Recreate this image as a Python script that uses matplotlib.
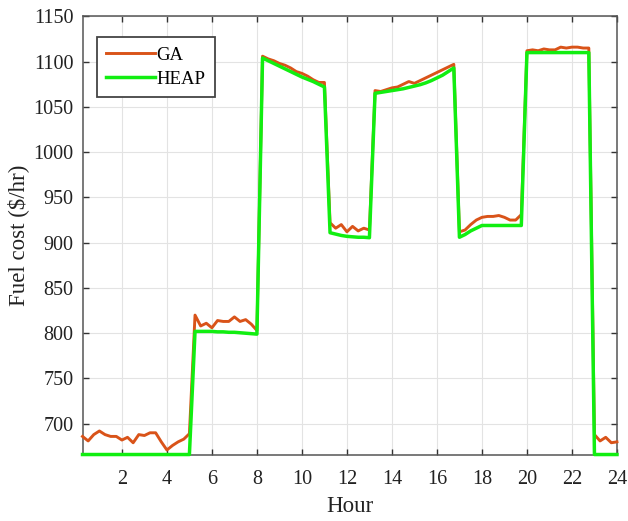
import matplotlib
matplotlib.use('Agg')
import matplotlib.pyplot as plt
import numpy as np

# quarter-hour steps over the day
hours = np.linspace(0.25, 24, 96)

ga_cost = [
    686, 681, 688, 692, 688, 686, 686, 682, 685, 679, 688, 687, 690, 690, 680, 671, 676, 680, 683, 689,
    820, 808, 811, 806, 814, 813, 813, 818, 813, 815, 810, 803,
    1106, 1103, 1101, 1098, 1096, 1093, 1089, 1087, 1084, 1080, 1077, 1077,
    922, 916, 920, 912, 918, 913, 916, 914,
    1068, 1067, 1069, 1071, 1072, 1075, 1078, 1076, 1079, 1082, 1085, 1088, 1091, 1094, 1097,
    912, 914, 920, 925, 928, 929, 929, 930, 928, 925, 925, 931,
    1112, 1113, 1112, 1114, 1113, 1113, 1116, 1115, 1116, 1116, 1115, 1115,
    688, 681, 685, 679, 680,
]

heap_cost = [
    666, 666, 666, 666, 666, 666, 666, 666, 666, 666, 666, 666, 666, 666, 666, 666, 666, 666, 666, 666,
    802, 802, 802, 802, 801.5, 801.5, 801, 801, 800.5, 800, 799.5, 799,
    1104, 1101, 1098, 1095, 1092, 1089, 1086, 1083, 1080.5, 1078, 1075, 1072,
    911, 909.5, 908, 907, 906.5, 906, 906, 905.5,
    1065, 1066, 1067, 1068, 1069, 1070, 1071.5, 1073, 1074.5, 1076.5, 1079, 1082, 1085, 1089, 1093,
    906, 909, 913, 916, 919, 919, 919, 919, 919, 919, 919, 919,
    1110, 1110, 1110, 1110, 1110, 1110, 1110, 1110, 1110, 1110, 1110, 1110,
    666, 666, 666, 666, 666,
]

x_ticks = [2, 4, 6, 8, 10, 12, 14, 16, 18, 20, 22, 24]
y_ticks = [700, 750, 800, 850, 900, 950, 1000, 1050, 1100, 1150]

plt.rcParams['font.family'] = ['Liberation Serif', 'DejaVu Serif']

fig = plt.figure(figsize=(6.28, 5.21), dpi=100)
ax = fig.add_axes([0.1314, 0.1276, 0.851, 0.841])

ax.plot(hours, ga_cost, color='#d95319', lw=2.1, label='GA', zorder=3, clip_on=False)
ax.plot(hours, heap_cost, color='#11ee11', lw=2.5, label='HEAP', zorder=4, clip_on=False)

ax.set_xlim(0.25, 24)
ax.set_ylim(666, 1150)
ax.set_xticks(x_ticks)
ax.set_yticks(y_ticks)

ax.grid(True, color='#e3e3e3', lw=0.8)
ax.set_axisbelow(True)
for s in ax.spines.values():
    s.set_color('#555555')
    s.set_linewidth(1.1)

ax.tick_params(axis='both', direction='in', length=4, width=1, color='#333333',
               top=True, right=True, labelsize=14.5, labelcolor='#222222')
ax.tick_params(axis='x', pad=11)
ax.tick_params(axis='y', pad=6.5)

ax.set_xlabel('Hour', fontsize=16.5, color='#222222')
ax.set_ylabel('Fuel cost ($/hr)', fontsize=16.5, color='#222222')
ax.xaxis.set_label_coords(0.5, -0.095)
ax.yaxis.set_label_coords(-0.1, 0.5)

leg = ax.legend(loc='upper left', bbox_to_anchor=(0.0266, 0.952), borderaxespad=0,
                fontsize=13.5, handlelength=2.6, handletextpad=0.1, labelspacing=0.35,
                borderpad=0.5, fancybox=False, framealpha=1)
leg.get_frame().set_edgecolor('#444444')
leg.get_frame().set_linewidth(1.3)

plt.savefig('out.png', dpi=100)
plt.close()
